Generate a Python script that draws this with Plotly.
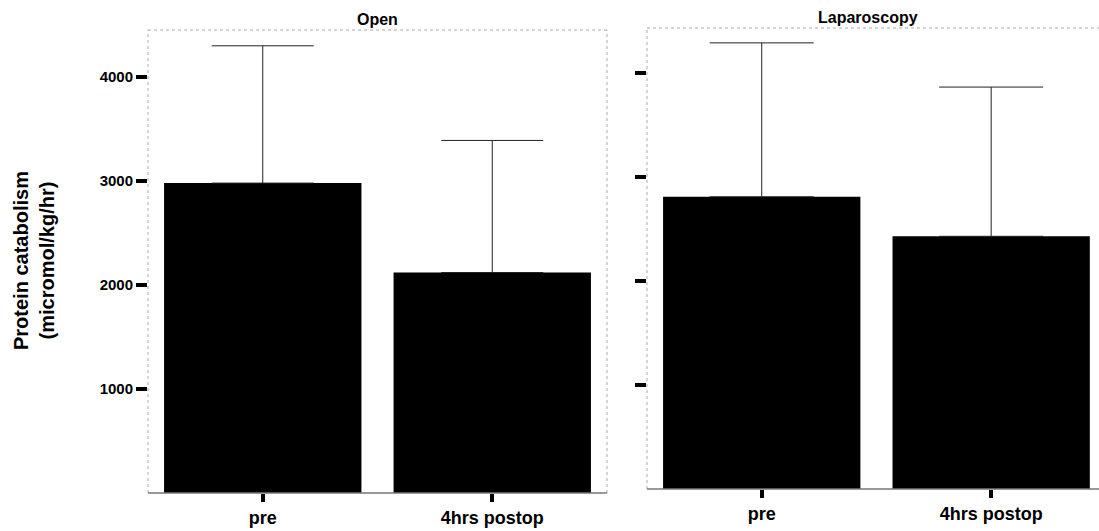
import plotly.graph_objects as go

# Data
categories = ["pre", "4hrs postop"]
open_mean = [2980, 2120]
open_sd = [1320, 1270]
lap_mean = [2810, 2430]
lap_sd = [1480, 1435]
ytick_vals = [1000, 2000, 3000, 4000]

W, H = 1099, 531
FONT = "Liberation Sans"


def px_x(a, b):
    return [a / W, b / W]


def px_y(top, bottom):
    return [(H - bottom) / H, (H - top) / H]


fig = go.Figure()

fig.add_trace(go.Bar(
    x=categories, y=open_mean, width=0.86,
    marker=dict(color="black", line=dict(width=0)),
    error_y=dict(type="data", array=open_sd, arrayminus=[0, 0], symmetric=False,
                 color="#222222", thickness=1, width=51),
    xaxis="x", yaxis="y", showlegend=False,
))
fig.add_trace(go.Bar(
    x=categories, y=lap_mean, width=0.86,
    marker=dict(color="black", line=dict(width=0)),
    error_y=dict(type="data", array=lap_sd, arrayminus=[0, 0], symmetric=False,
                 color="#222222", thickness=1, width=52),
    xaxis="x2", yaxis="y2", showlegend=False,
))

xcommon = dict(
    showgrid=False, zeroline=False, showline=False,
    ticks="outside", ticklen=8, tickwidth=4, tickcolor="black",
    tickfont=dict(family=FONT, size=18, color="black", weight="bold"),
)
ycommon = dict(
    showgrid=False, zeroline=False, showline=False,
    tickvals=ytick_vals, ticks="outside", ticklen=11, tickwidth=4, tickcolor="black",
    tickfont=dict(family=FONT, size=15, color="black", weight="bold"),
)

fig.update_layout(
    width=W, height=H,
    margin=dict(l=0, r=0, t=0, b=0),
    plot_bgcolor="white", paper_bgcolor="white",
    xaxis=dict(domain=px_x(148, 607), range=[-0.5, 1.5], anchor="y", **xcommon),
    yaxis=dict(domain=px_y(30, 493), range=[0, 4452], anchor="x", **ycommon),
    xaxis2=dict(domain=px_x(647, 1099), range=[-0.5, 1.47], anchor="y2", **xcommon),
    yaxis2=dict(domain=px_y(28, 489), range=[0, 4433], anchor="x2",
                showticklabels=False, **ycommon),
)

# panel frames: dotted sides/top, solid grey baseline
for xr, yr, right in [("x domain", "y domain", True), ("x2 domain", "y2 domain", False)]:
    dot = dict(color="#aaaaaa", width=1, dash="dot")
    fig.add_shape(type="line", xref=xr, yref=yr, x0=0, x1=0, y0=0, y1=1, line=dot)
    fig.add_shape(type="line", xref=xr, yref=yr, x0=0, x1=1, y0=1, y1=1, line=dot)
    if right:
        fig.add_shape(type="line", xref=xr, yref=yr, x0=1, x1=1, y0=0, y1=1, line=dot)
    fig.add_shape(type="line", xref=xr, yref=yr, x0=0, x1=1, y0=0, y1=0,
                  line=dict(color="#777777", width=1.5))

# panel titles
fig.add_annotation(text="Open", xref="x domain", yref="y domain", x=0.5, y=1,
                   xanchor="center", yanchor="bottom", yshift=0, showarrow=False,
                   font=dict(family=FONT, size=16, color="black", weight="bold"))
fig.add_annotation(text="Laparoscopy", xref="x2 domain", yref="y2 domain", x=0.49, y=1,
                   xanchor="center", yanchor="bottom", yshift=0, showarrow=False,
                   font=dict(family=FONT, size=16, color="black", weight="bold"))

# y-axis title
fig.add_annotation(text="Protein catabolism<br>(micromol/kg/hr)", xref="paper", yref="paper",
                   x=34 / W, y=(H - 261) / H, xanchor="center", yanchor="middle",
                   textangle=-90, showarrow=False,
                   font=dict(family=FONT, size=20, color="black", weight="bold"))

fig.write_html("out.html", config={"displayModeBar": False},
               post_script="document.body.style.margin='0';")
